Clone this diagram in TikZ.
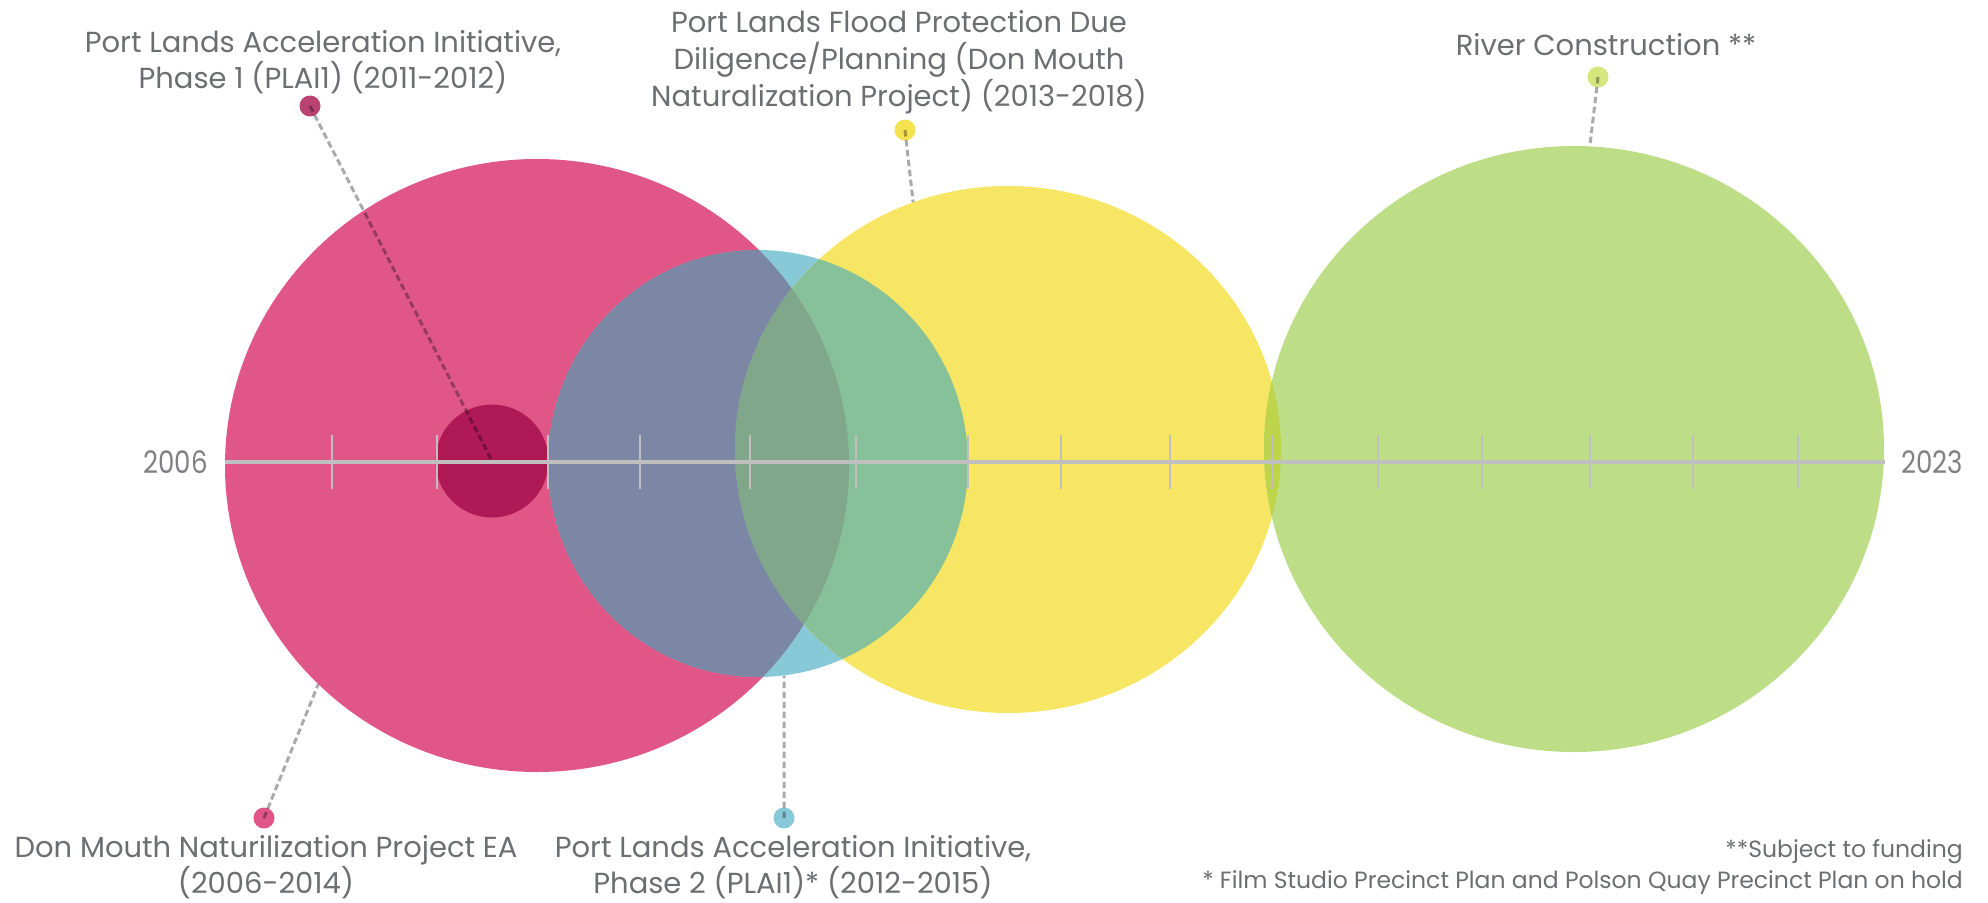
\documentclass[tikz,border=0pt]{standalone}
\usepackage{fontspec}
\setmainfont{Poppins}
\newfontfamily\yrfont{Poppins}[FakeStretch=0.84]
\usetikzlibrary{positioning,shapes.geometric}

\definecolor{pinkc}{HTML}{E05787}
\definecolor{plumc}{HTML}{AF1955}
\definecolor{plumdot}{HTML}{BA4270}
\definecolor{bluec}{HTML}{87C9D6}
\definecolor{yellowc}{HTML}{F7E663}
\definecolor{yellowdot}{HTML}{F5E250}
\definecolor{greenc}{HTML}{BDDE87}
\definecolor{greendot}{HTML}{D4E67D}
\definecolor{pinkblue}{HTML}{7B87A5}
\definecolor{blueyellow}{HTML}{87C199}
\definecolor{allthree}{HTML}{80A789}
\definecolor{yellowgreen}{HTML}{BED54B}
\definecolor{txtgray}{HTML}{6D6E71}
\definecolor{yrgray}{HTML}{808083}
\definecolor{axisgray}{HTML}{BFBFBF}
\definecolor{leadgray}{HTML}{AAAAAC}

\begin{document}
\begin{tikzpicture}[x=1pt,y=-1pt,
    blob/.style={ellipse,inner sep=0pt,fill=#1},
    dot/.style={circle,inner sep=0pt,minimum size=21pt,fill=#1},
    lbl/.style={text=txtgray,align=center,inner sep=0pt,
      font=\fontsize{29}{36}\selectfont},
    yr/.style={text=yrgray,inner ysep=0pt,font=\yrfont\fontsize{31}{31}\selectfont},
    leader/.style={draw=leadgray,line width=3pt,dash pattern=on 6.5pt off 3.5pt,
      blend mode=multiply}
  ]
    \useasboundingbox (0,0) rectangle (1988,902);

    % project circles
    \node[blob=pinkc, minimum width=624pt, minimum height=613pt] (ea) at (537,465.5) {};
    \node[blob=bluec, minimum width=420pt, minimum height=427pt] (plai2) at (758,463.5) {};
    \node[blob=yellowc, minimum width=546pt, minimum height=527pt] (flood) at (1008,449.5) {};
    \node[blob=greenc, minimum width=620pt, minimum height=606pt] (river) at (1574,449) {};

    % overlaps
    \begin{scope}
      \clip (ea.center) ellipse [x radius=312, y radius=306.5];
      \fill[pinkblue] (plai2.center) ellipse [x radius=210, y radius=213.5];
    \end{scope}
    \begin{scope}
      \clip (plai2.center) ellipse [x radius=210, y radius=213.5];
      \clip (flood.center) ellipse [x radius=273, y radius=263.5];
      \fill[blueyellow] (0,0) rectangle (1988,902);
      \clip (ea.center) ellipse [x radius=312, y radius=306.5];
      \fill[allthree] (0,0) rectangle (1988,902);
    \end{scope}
    \begin{scope}
      \clip (flood.center) ellipse [x radius=273, y radius=263.5];
      \fill[yellowgreen] (river.center) ellipse [x radius=310, y radius=303];
    \end{scope}

    \node[circle, inner sep=0pt, minimum size=113pt, fill=plumc] (plai1) at (492,461) {};

    % timeline
    \node[yr, anchor=east, inner xsep=17pt] (y2006) at (225,462) {2006};
    \node[yr, anchor=west, inner xsep=16pt] (y2023) at (1885,462) {2023};
    \draw[axisgray, line width=4pt] (y2006.east) -- (y2023.west);
    \foreach \t in {332,437,548,640,750,856,968,1061,1170,1272,1378,1482,1590,1693,1798}
      \draw[axisgray, line width=2pt] (\t,435) -- (\t,489);

    % dots and leaders
    \node[dot=plumdot] (dplai1) at (310,106) {};
    \node[dot=yellowdot] (dflood) at (905,130) {};
    \node[dot=greendot] (driver) at (1598,77) {};
    \node[dot=pinkc] (dea) at (264,818) {};
    \node[dot=bluec] (dplai2) at (784,818) {};

    \draw[leader] (dplai1.center) -- (plai1.center);
    \draw[leader] (dflood.center) -- (flood.111.5);
    \draw[leader] (driver.center) -- (river.87);
    \draw[leader] (dea.center) -- (ea.225.7);
    \draw[leader] (dplai2.center) -- (plai2.277);

    % labels
    \node[lbl, above=1pt of dplai1, xshift=13pt] {Port Lands Acceleration Initiative,\\Phase 1 (PLAI1) (2011-2012)};
    \node[lbl, above=5pt of dflood, xshift=-6pt, font=\fontsize{29}{37}\selectfont]
      {Port Lands Flood Protection Due\\Diligence/Planning (Don Mouth\\Naturalization Project) (2013-2018)};
    \node[lbl, above=10pt of driver, xshift=8pt] {River Construction **};
    \node[lbl, below=7pt of dea, xshift=2pt] {Don Mouth Naturilization Project EA\\(2006-2014)};
    \node[lbl, below=7pt of dplai2, xshift=9pt] {Port Lands Acceleration Initiative,\\Phase 2 (PLAI1)* (2012-2015)};

    \node[text=txtgray, align=right, anchor=south east, inner sep=0pt,
      font=\fontsize{23.5}{31}\selectfont] (notes) at (1963,895)
      {**Subject to funding\\* Film Studio Precinct Plan and Polson Quay Precinct Plan on hold};
\end{tikzpicture}
\end{document}
